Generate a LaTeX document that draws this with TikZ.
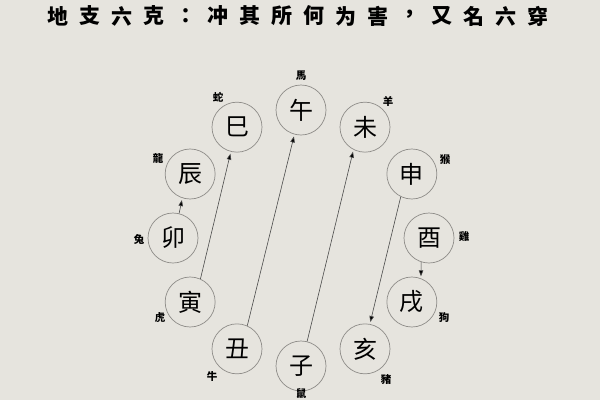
\documentclass[tikz,border=0pt]{standalone}
\usepackage{fontspec}
\newfontfamily\cjk{Noto Sans CJK TC}
\usetikzlibrary{arrows.meta}
\definecolor{paper}{HTML}{E6E4DE}
\definecolor{ring}{HTML}{8E8C88}
\definecolor{lineclr}{HTML}{4A4A4A}
\begin{document}
\begin{tikzpicture}[x=1pt,y=-1pt,
  zhi/.style={circle,draw=ring,line width=0.7pt,minimum size=50pt,inner sep=0pt,
    font=\cjk\fontsize{24}{24}\selectfont},
  animal/.style={inner sep=0pt,font=\cjk\bfseries\fontsize{10.5}{10.5}\selectfont},
  ttl/.style={inner sep=0pt,font=\cjk\bfseries\fontsize{21}{21}\selectfont},
  arr/.style={draw=lineclr,line width=0.6pt,-{Triangle[length=6pt,width=4.5pt,fill=black]},shorten >=2pt}]
\fill[paper] (0,0) rectangle (600,400);
\clip (0,0) rectangle (600,400);
% title
\foreach \ch [count=\i from 0] in {地,支,六,克,：,冲,其,所,何,为,害,，,又,名,六,穿}
  \node[ttl] (t\i) at ({58+32*\i},16) {\ch};
% branches
\foreach \n/\c/\a in {wu/午/90,wei/未/60,shen/申/30,you/酉/0,xu/戌/-30,hai/亥/-60,
    zi/子/-90,chou/丑/-120,yin/寅/-150,mao/卯/180,chen/辰/150,si/巳/120}
  \node[zhi] (\n) at ({301+128*cos(\a)},{238-128*sin(\a)}) {\c};
% arrows
\draw[arr] (yin.66) -- (si.256);
\draw[arr] (mao.76) -- (chen.252);
\draw[arr] (chou.66) -- (wu.255);
\draw[arr] (zi.76) -- (wei.243);
\draw[arr] (shen.244) -- (hai.79);
\draw[arr] (you.252) -- (xu.69);
% animals
\node[animal] (lma) at (301,76) {馬};
\node[animal] (lshe) at (218,97) {蛇};
\node[animal] (llong) at (158,158) {龍};
\node[animal] (lyang) at (388,101) {羊};
\node[animal] (lhou) at (445,160) {猴};
\node[animal] (ltu) at (139,239) {兔};
\node[animal] (lhu) at (160,318) {虎};
\node[animal] (lniu) at (212,377) {牛};
\node[animal] (lshu) at (301,394) {鼠};
\node[animal] (lji) at (464,237) {雞};
\node[animal] (lgou) at (444,318) {狗};
\node[animal] (lzhu) at (386,380) {豬};
\end{tikzpicture}
\end{document}
